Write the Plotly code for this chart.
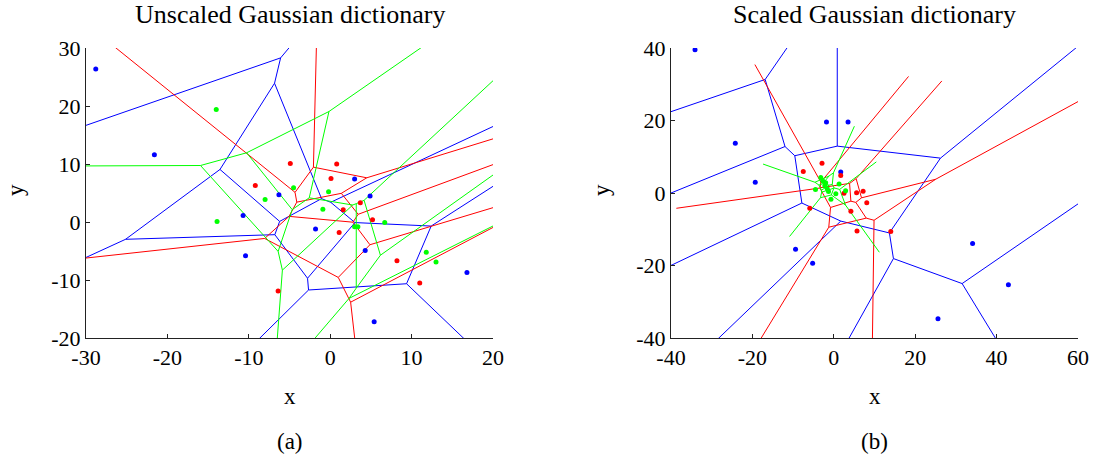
import numpy as np
import plotly.graph_objects as go

# ---------------- data ----------------
# panel (a): unscaled Gaussian dictionary
blue_a_x = [-28.8, -21.6, -10.7, -10.4, -6.3, -1.8, 3.0, 4.9, 4.3, 5.4, 16.8]
blue_a_y = [26.4, 11.6, 1.1, -5.8, 4.7, -1.2, 7.4, 4.5, -4.9, -17.2, -8.7]
red_a_x = [-4.9, 0.8, -9.2, 0.1, 1.6, 3.7, 5.2, 1.1, 8.2, 11.0, -6.4]
red_a_y = [10.1, 10.0, 6.3, 7.5, 2.1, 3.3, 0.4, -1.8, -6.7, -10.5, -11.9]
green_a_x = [-14.0, -13.9, -4.5, -8.0, -0.2, -0.9, 6.7, 3.0, 3.4, 11.8, 13.0]
green_a_y = [19.4, 0.1, 5.9, 3.9, 5.2, 2.2, -0.1, -0.8, -0.8, -5.2, -6.9]

# panel (b): scaled Gaussian dictionary
blue_b_x = [-34.1, -1.8, 3.5, -24.2, -19.3, 1.7, -9.4, -5.2, 34.1, 42.9, 25.6]
blue_b_y = [39.5, 19.6, 19.6, 13.7, 3.0, 5.8, -15.5, -19.4, -13.9, -25.3, -34.7]
red_b_x = [-7.5, -2.9, 1.7, 2.5, 5.6, 7.2, 8.1, 4.2, -5.9, 5.7, 14.0]
red_b_y = [5.9, 8.2, 4.8, -0.1, 0.1, 0.5, -2.7, -5.0, -4.2, -10.5, -10.6]
green_b_x = [-3.2, -2.7, -4.5, -2.2, -1.6, -1.3, 0.5, -0.7, 1.3, 2.9, -2.0]
green_b_y = [4.3, 3.3, 1.0, 2.0, 1.2, 0.4, -0.2, -1.7, 2.5, 0.6, 2.8]

ticks_a_x = [-30, -20, -10, 0, 10, 20]
ticks_a_y = [-20, -10, 0, 10, 20, 30]
ticks_b_x = [-40, -20, 0, 20, 40, 60]
ticks_b_y = [-40, -20, 0, 20, 40]

COLORS = {"blue": "#0000ff", "red": "#ff0000", "green": "#00ff00"}
FONT = "Liberation Serif"


# ---------------- Voronoi edges (MATLAB voronoi style) ----------------
def _clip(poly, labs, a, b, c, lab):
    out, olab = [], []
    n = len(poly)
    for k in range(n):
        P, Q, L = poly[k], poly[(k + 1) % n], labs[k]
        fp = a * P[0] + b * P[1] - c
        fq = a * Q[0] + b * Q[1] - c
        if fp <= 0:
            out.append(P); olab.append(L)
            if fq > 0:
                t = fp / (fp - fq)
                out.append(P + t * (Q - P)); olab.append(lab)
        elif fq <= 0:
            t = fp / (fp - fq)
            out.append(P + t * (Q - P)); olab.append(L)
    return out, olab


def voronoi_edges(xs, ys):
    pts = np.column_stack([xs, ys]).astype(float)
    n = len(pts)
    B = 1e5
    rx = pts[:, 0].max() - pts[:, 0].min()
    ry = pts[:, 1].max() - pts[:, 1].min()
    cen = np.array([(pts[:, 0].max() + pts[:, 0].min()) / 2,
                    (pts[:, 1].max() + pts[:, 1].min()) / 2])
    diag = np.hypot(rx, ry)
    ex, ey = [], []
    for i in range(n):
        poly = [np.array(v, float) for v in [(-B, -B), (B, -B), (B, B), (-B, B)]]
        labs = [-1, -1, -1, -1]
        for j in range(n):
            if j == i:
                continue
            d = pts[j] - pts[i]
            a, b = 2 * d
            c = pts[j] @ pts[j] - pts[i] @ pts[i]
            poly, labs = _clip(poly, labs, a, b, c, j)
        m = len(poly)
        for k in range(m):
            j = labs[k]
            if j <= i:
                continue
            P, Q = poly[k], poly[(k + 1) % m]
            p_inf = labs[k - 1] == -1
            q_inf = labs[(k + 1) % m] == -1
            if p_inf and q_inf:
                continue
            if p_inf or q_inf:
                v, far = (Q, P) if p_inf else (P, Q)
                u = (far - v) / np.linalg.norm(far - v)
                L = diag + np.linalg.norm(cen - v)
                P, Q = v, v + L * u
            ex += [P[0], Q[0], None]
            ey += [P[1], Q[1], None]
    return ex, ey


fig = go.Figure()

panels = [
    ("x", "y", [("blue", blue_a_x, blue_a_y), ("red", red_a_x, red_a_y),
                ("green", green_a_x, green_a_y)]),
    ("x2", "y2", [("blue", blue_b_x, blue_b_y), ("red", red_b_x, red_b_y),
                  ("green", green_b_x, green_b_y)]),
]
for xa, ya, sets in panels:
    for name, xs, ys in sets:
        lx, ly = voronoi_edges(xs, ys)
        fig.add_trace(go.Scatter(x=lx, y=ly, mode="lines", xaxis=xa, yaxis=ya,
                                 line=dict(color=COLORS[name], width=1),
                                 hoverinfo="skip", showlegend=False))
    for name, xs, ys in sets:
        fig.add_trace(go.Scatter(x=xs, y=ys, mode="markers", xaxis=xa, yaxis=ya,
                                 marker=dict(color=COLORS[name], size=5),
                                 showlegend=False))

W, H = 1093, 465
axcommon = dict(showline=True, linecolor="#222", linewidth=1, ticks="inside",
                ticklen=4, tickcolor="#222", showgrid=False, zeroline=False,
                automargin=False,
                tickfont=dict(family=FONT, size=22, color="black"))

def lab(v):
    return [str(t) for t in v]

fig.update_layout(
    width=W, height=H, margin=dict(l=0, r=0, t=0, b=0),
    paper_bgcolor="white", plot_bgcolor="white",
    xaxis=dict(domain=[86 / W, 493 / W], range=[-30, 20], anchor="y",
               tickvals=ticks_a_x, ticktext=lab(ticks_a_x), **axcommon),
    yaxis=dict(domain=[1 - 338 / H, 1 - 48 / H], range=[-20, 30], anchor="x",
               tickvals=ticks_a_y, ticktext=lab(ticks_a_y), **axcommon),
    xaxis2=dict(domain=[671 / W, 1078 / W], range=[-40, 60], anchor="y2",
                tickvals=ticks_b_x, ticktext=lab(ticks_b_x), **axcommon),
    yaxis2=dict(domain=[1 - 338 / H, 1 - 48 / H], range=[-40, 40], anchor="x2",
                tickvals=ticks_b_y, ticktext=lab(ticks_b_y), **axcommon),
)

def txt(s, x, y, size=23, angle=0):
    fig.add_annotation(text=s, x=x / W, y=1 - y / H, xref="paper", yref="paper",
                       showarrow=False, textangle=angle, xanchor="center",
                       yanchor="middle", font=dict(family=FONT, size=size, color="black"))

txt("Unscaled Gaussian dictionary", 289.5, 15, size=26)
txt("Scaled Gaussian dictionary", 874.5, 15, size=26)
txt("x", 289.5, 396)
txt("x", 874.5, 396)
txt("y", 15, 190, angle=-90)
txt("y", 601, 190, angle=-90)
txt("(a)", 289.5, 441)
txt("(b)", 874.5, 441)

fig.write_html("out.html")
